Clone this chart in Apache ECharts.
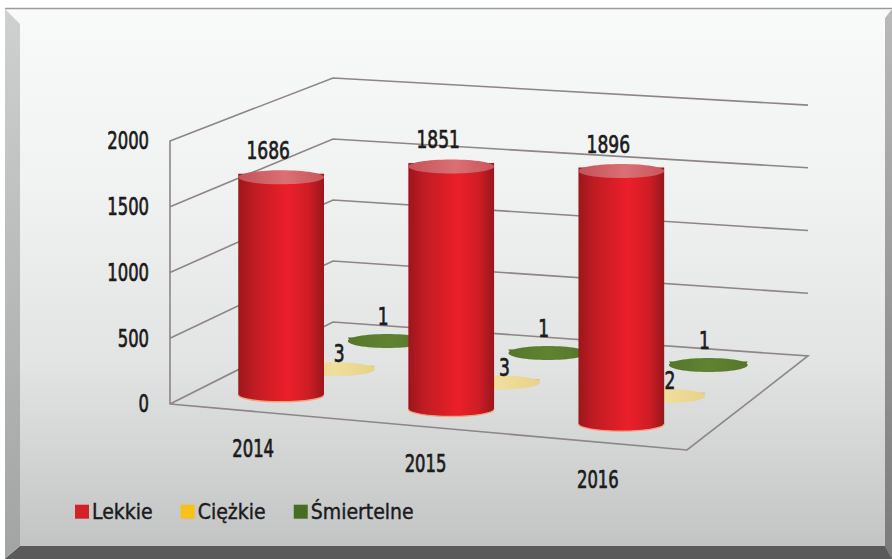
<!DOCTYPE html>
<html>
<head>
<meta charset="utf-8">
<script src="https://cdn.jsdelivr.net/npm/echarts@6/dist/echarts.min.js"></script>
<style>
  html, body { margin: 0; padding: 0; background: #ffffff; }
  #chart { width: 892px; height: 559px; }
</style>
</head>
<body>
<div id="chart"></div>
<script>
// Road accident casualties by year and severity
const categories = ['2014', '2015', '2016'];
const lekkie = [1686, 1851, 1896];
const ciezkie = [3, 3, 2];
const smiertelne = [1, 1, 1];
const yTicks = [0, 500, 1000, 1500, 2000];
const seriesNames = ['Lekkie', 'Ciężkie', 'Śmiertelne'];

const FONT = '"Liberation Sans Narrow", "DejaVu Sans Condensed", "Arial Narrow", sans-serif';
const INK = '#1b1b1b';
const WALL = '#8e8585';
// horizontal squeeze applied to drawn numbers for a narrow, tall figure style
const NARROW = 0.76;

// Oblique box: the grid rectangle is the front plane, the floor recedes up and to the right.
const box = {
  frontRightDrop: 46,
  backLeft: [163, -82],
  backRight: [121, -94],
  heightFactor: { fl: 1.0, fr: 1.053, bl: 0.928, br: 0.954 }
};
// depth of each series row (0 = front, 1 = back wall)
const rowDepth = [0.16, 0.5, 0.84];

function makeProjector(cs) {
  const FL = [cs.x, cs.y + cs.height];
  const FR = [cs.x + cs.width, cs.y + cs.height + box.frontRightDrop];
  const BL = [FL[0] + box.backLeft[0], FL[1] + box.backLeft[1]];
  const BR = [FR[0] + box.backRight[0], FR[1] + box.backRight[1]];
  const hf = box.heightFactor;
  return function (u, v, w) {
    const a = (1 - u) * (1 - w), b = u * (1 - w), c = (1 - u) * w, d = u * w;
    const x = a * FL[0] + b * FR[0] + c * BL[0] + d * BR[0];
    const y = a * FL[1] + b * FR[1] + c * BL[1] + d * BR[1];
    const h = cs.height * (a * hf.fl + b * hf.fr + c * hf.bl + d * hf.br);
    return [x, y - v * h];
  };
}

// grid pixel position -> unit coordinates inside the front plane
function toUnit(api, cs, cat, val) {
  const p = api.coord([cat, val]);
  return [(p[0] - cs.x) / cs.width, (cs.y + cs.height - p[1]) / cs.height];
}

function narrowText(text, x, y, align, size) {
  return {
    type: 'text',
    x: x, y: y,
    scaleX: NARROW,
    z2: 10,
    style: {
      text: text, x: 0, y: 0,
      align: align, verticalAlign: 'middle',
      fill: INK, font: size + 'px ' + FONT,
      stroke: INK, lineWidth: 0.7
    }
  };
}

const looks = [
  {
    color: '#d5202a',
    radius: 0.252, ry: 7,
    body: [[0, '#9c161c'], [0.18, '#bf1c23'], [0.58, '#ec1f29'], [0.82, '#cf1d25'], [1, '#9a161c']],
    top: [[0, '#c4525a'], [0.55, '#da7074'], [1, '#c8565c']],
    rim: '#f3a27e',
    labelOffset: [-13, -27]
  },
  {
    color: '#f6c21a',
    radius: 0.245, ry: 7,
    body: [[0, '#dec478'], [1, '#dec478']],
    top: [[0, '#e8d288'], [0.5, '#f0de9c'], [1, '#e8d288']],
    rim: null,
    labelOffset: [5, -16]
  },
  {
    color: '#456d24',
    radius: 0.245, ry: 7,
    body: [[0, '#4b6a24'], [1, '#4b6a24']],
    top: [[0, '#557629'], [0.5, '#608332'], [1, '#557629']],
    rim: null,
    labelOffset: [-4, -25]
  }
];

function hGrad(stops) {
  return {
    type: 'linear', x: 0, y: 0, x2: 1, y2: 0,
    colorStops: stops.map(s => ({ offset: s[0], color: s[1] }))
  };
}

function cylinderSeries(name, values, idx) {
  const look = looks[idx];
  return {
    name: name,
    type: 'custom',
    coordinateSystem: 'cartesian2d',
    clip: false,
    z: 5 - idx,
    itemStyle: { color: look.color },
    encode: { x: 0, y: 1 },
    data: values.map((v, i) => [i, v]),
    renderItem: function (params, api) {
      const cs = params.coordSys;
      const proj = makeProjector(cs);
      const cat = api.value(0), val = api.value(1);
      const uv = toUnit(api, cs, cat, val);
      const du = api.size([1, 0])[0] / cs.width;
      const w = rowDepth[idx];
      const B = proj(uv[0], 0, w);
      const T = proj(uv[0], uv[1], w);
      const rx = look.radius * (proj(uv[0] + du / 2, 0, w)[0] - proj(uv[0] - du / 2, 0, w)[0]);
      const ry = look.ry;
      const L = B[0] - rx, R = B[0] + rx;
      const children = [
        {
          type: 'path',
          shape: {
            pathData: 'M' + L + ' ' + T[1] + ' L' + L + ' ' + B[1] +
              ' A' + rx + ' ' + ry + ' 0 0 0 ' + R + ' ' + B[1] +
              ' L' + R + ' ' + T[1] + ' Z',
            x: L, y: T[1] - ry, width: 2 * rx, height: B[1] - T[1] + 2 * ry
          },
          style: { fill: hGrad(look.body) }
        }
      ];
      if (look.rim) {
        children.push({
          type: 'path',
          shape: {
            pathData: 'M' + (L + 1) + ' ' + B[1] + ' A' + (rx - 1) + ' ' + ry + ' 0 0 0 ' + (R - 1) + ' ' + B[1],
            x: L, y: B[1] - ry, width: 2 * rx, height: 2 * ry
          },
          style: { fill: null, stroke: look.rim, lineWidth: 1.4 }
        });
      }
      children.push({
        type: 'ellipse',
        shape: { cx: B[0], cy: T[1], rx: rx, ry: ry },
        style: { fill: hGrad(look.top) }
      });
      children.push(narrowText(String(val),
        T[0] + look.labelOffset[0], T[1] + look.labelOffset[1], 'center', 25));
      return { type: 'group', children: children };
    }
  };
}

// back and side walls with their value gridlines, floor outline and value labels
const wallSeries = {
  name: 'walls',
  type: 'custom',
  coordinateSystem: 'cartesian2d',
  clip: false,
  silent: true,
  z: 1,
  encode: { x: 0, y: 1 },
  data: yTicks.map(t => [0, t]),
  renderItem: function (params, api) {
    const cs = params.coordSys;
    const proj = makeProjector(cs);
    const val = api.value(1);
    const v = toUnit(api, cs, 0, val)[1];
    const front = proj(0, v, 0);
    const pts = [front, proj(0, v, 1), proj(1, v, 1)];
    if (val === yTicks[0]) {
      pts.push(proj(1, v, 0), proj(0, v, 0));
    }
    return {
      type: 'group',
      children: [
        {
          type: 'polyline',
          shape: { points: pts },
          style: { fill: null, stroke: WALL, lineWidth: 1.6 }
        },
        narrowText(String(val), front[0] - 21, front[1], 'right', 24)
      ]
    };
  }
};

const categoryLabelSeries = {
  name: 'years',
  type: 'custom',
  coordinateSystem: 'cartesian2d',
  clip: false,
  silent: true,
  z: 2,
  encode: { x: 0, y: 1 },
  data: categories.map((c, i) => [i, 0]),
  renderItem: function (params, api) {
    const cs = params.coordSys;
    const proj = makeProjector(cs);
    const uv = toUnit(api, cs, api.value(0), 0);
    const p = proj(uv[0], 0, 0);
    return narrowText(categories[api.value(0)], p[0] - 3, p[1] + 37, 'center', 24);
  }
};

const chart = echarts.init(document.getElementById('chart'), null, { renderer: 'svg' });

chart.setOption({
  animation: false,
  backgroundColor: {
    type: 'linear', x: 0, y: 0, x2: 0, y2: 1,
    colorStops: [
      { offset: 0, color: '#f9fafa' },
      { offset: 0.35, color: '#f0f1f1' },
      { offset: 0.65, color: '#e2e3e3' },
      { offset: 0.82, color: '#d2d3d3' },
      { offset: 1, color: '#c0c1c1' }
    ]
  },
  grid: { left: 170, top: 141, width: 517, height: 263, outerBoundsMode: 'none' },
  xAxis: {
    type: 'category',
    data: categories,
    show: false
  },
  yAxis: {
    type: 'value',
    min: 0, max: 2000, interval: 500,
    axisLine: { show: true, lineStyle: { color: WALL, width: 1.6 } },
    axisTick: { show: false },
    splitLine: { show: false },
    axisLabel: { show: false }
  },
  legend: {
    data: seriesNames,
    left: 70, top: 496,
    icon: 'rect',
    itemWidth: 14, itemHeight: 14,
    itemGap: 28,
    textStyle: {
      fontSize: 21, fontFamily: FONT, color: INK, padding: [0, 0, 0, -2],
      textBorderColor: INK, textBorderWidth: 0.4
    }
  },
  graphic: {
    elements: [
      { type: 'rect', z: 100, silent: true, shape: { x: 0, y: 0, width: 892, height: 8 }, style: { fill: '#ffffff' } },
      { type: 'rect', z: 100, silent: true, shape: { x: 0, y: 0, width: 5, height: 559 }, style: { fill: '#ffffff' } },
      {
        type: 'polygon', z: 100, silent: true,
        shape: { points: [[5, 9], [20, 24], [20, 545], [5, 559]] },
        style: {
          fill: {
            type: 'linear', x: 0, y: 0, x2: 0, y2: 1,
            colorStops: [{ offset: 0, color: '#cfd0d0' }, { offset: 1, color: '#a2a3a3' }]
          }
        }
      },
      {
        type: 'polygon', z: 100, silent: true,
        shape: { points: [[892, 9], [885, 18], [885, 546], [892, 559]] },
        style: {
          fill: {
            type: 'linear', x: 0, y: 0, x2: 0, y2: 1,
            colorStops: [{ offset: 0, color: '#b9b9b9' }, { offset: 1, color: '#7a7a7a' }]
          }
        }
      },
      {
        type: 'polygon', z: 101, silent: true,
        shape: { points: [[5, 559], [20, 546], [885, 546], [892, 559]] },
        style: { fill: '#5a5a5a' }
      },
      {
        type: 'line', z: 101, silent: true,
        shape: { x1: 5, y1: 8.5, x2: 892, y2: 8.5 },
        style: { stroke: '#9a9a9a', lineWidth: 1.5 }
      }
    ]
  },
  series: [
    wallSeries,
    categoryLabelSeries,
    cylinderSeries(seriesNames[0], lekkie, 0),
    cylinderSeries(seriesNames[1], ciezkie, 1),
    cylinderSeries(seriesNames[2], smiertelne, 2)
  ]
});
</script>
</body>
</html>
